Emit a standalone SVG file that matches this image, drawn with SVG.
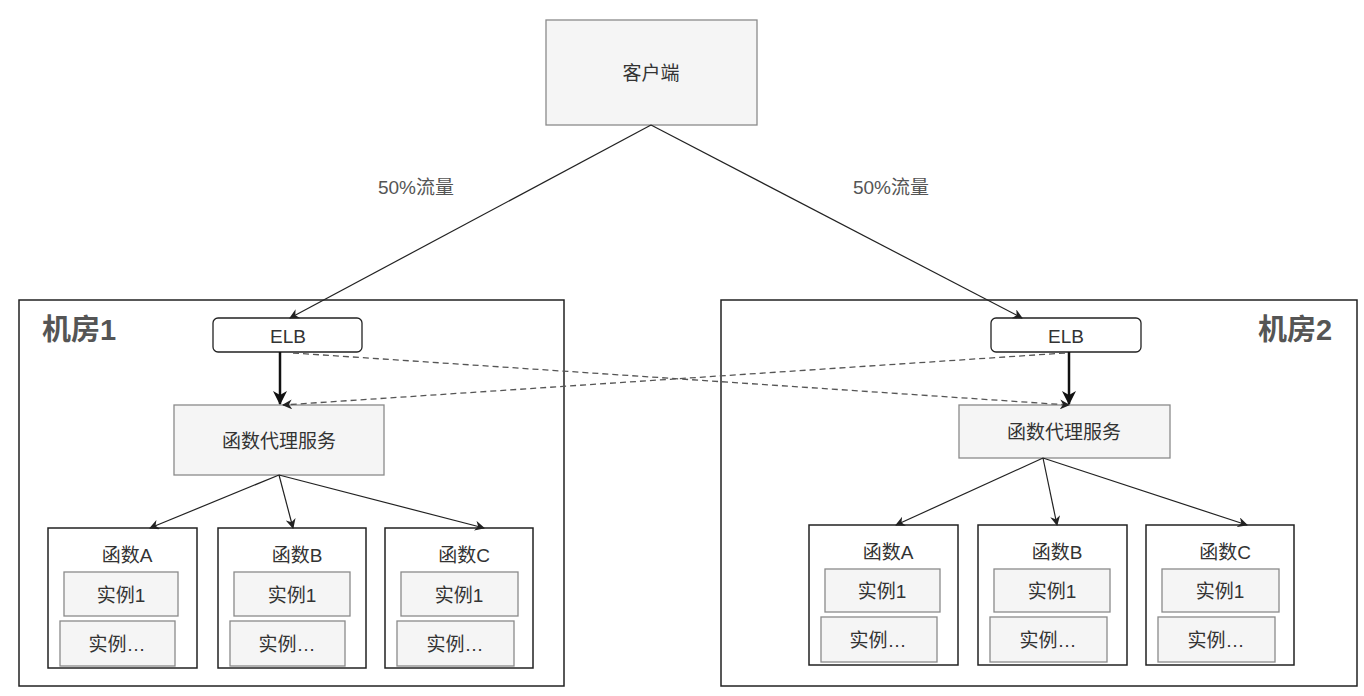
<svg xmlns="http://www.w3.org/2000/svg" width="1364" height="696" viewBox="0 0 1364 696">
<style>
text{font-family:"Liberation Sans","Noto Sans CJK SC",sans-serif;fill:#333;text-anchor:middle;dominant-baseline:central}
.g{fill:#f5f5f5;stroke:#8a8a8a;stroke-width:1.3}
.room{fill:#fff;stroke:#222;stroke-width:1.5}
.fn{fill:#fff;stroke:#222;stroke-width:1.5}
.elb{fill:#fff;stroke:#222;stroke-width:1.3}
.t{font-size:19px}
.lbl{font-size:19px;fill:#555}
.rt{font-size:29px;font-weight:bold;fill:#555}
.ln{stroke:#222;stroke-width:1.2;fill:none}
.thick{stroke:#111;stroke-width:2.5;fill:none}
.dash{stroke:#555;stroke-width:1.3;stroke-dasharray:6 4;fill:none}
</style>
<defs>
<marker id="ah" markerWidth="10" markerHeight="10" refX="9" refY="5" orient="auto" markerUnits="userSpaceOnUse">
<path d="M0,0 L10,5 L0,10 L3,5 Z" fill="#222"/>
</marker>
<marker id="ahb" markerWidth="14" markerHeight="14" refX="13" refY="7" orient="auto" markerUnits="userSpaceOnUse">
<path d="M0,0 L14,7 L0,14 L4,7 Z" fill="#111"/>
</marker>
</defs>

<g id="room1"><rect class="room" x="19" y="300" width="545" height="386"/><text class="rt" x="79" y="330">机房1</text></g>
<g id="room2"><rect class="room" x="721" y="300" width="636" height="386"/><text class="rt" x="1295" y="330">机房2</text></g>

<g id="client"><rect class="g" x="546" y="20" width="211" height="105"/><text class="t" x="651" y="73">客户端</text></g>

<g id="elb1"><rect class="elb" x="213" y="318" width="149" height="34" rx="5"/><text class="t" x="288" y="336">ELB</text></g>
<g id="elb2"><rect class="elb" x="991" y="318" width="150" height="34" rx="5"/><text class="t" x="1066" y="336">ELB</text></g>

<g id="proxy1"><rect class="g" x="174" y="405" width="210" height="70"/><text class="t" x="279" y="441">函数代理服务</text></g>
<g id="proxy2"><rect class="g" x="959" y="405" width="211" height="53"/><text class="t" x="1064" y="432">函数代理服务</text></g>

<g id="r1fa"><rect class="fn" x="48" y="528" width="149" height="140"/><text class="t" x="127" y="555">函数A</text>
<rect class="g" x="64" y="572" width="114" height="44"/><text class="t" x="121" y="595">实例1</text>
<rect class="g" x="60" y="621" width="115" height="45"/><text class="t" x="117" y="644">实例…</text></g>
<g id="r1fb"><rect class="fn" x="218" y="528" width="148" height="140"/><text class="t" x="297" y="555">函数B</text>
<rect class="g" x="234" y="572" width="116" height="44"/><text class="t" x="292" y="595">实例1</text>
<rect class="g" x="230" y="621" width="115" height="45"/><text class="t" x="287" y="644">实例…</text></g>
<g id="r1fc"><rect class="fn" x="385" y="528" width="148" height="140"/><text class="t" x="464" y="555">函数C</text>
<rect class="g" x="401" y="572" width="117" height="44"/><text class="t" x="459" y="595">实例1</text>
<rect class="g" x="397" y="621" width="117" height="45"/><text class="t" x="455" y="644">实例…</text></g>

<g id="r2fa"><rect class="fn" x="809" y="525" width="149" height="140"/><text class="t" x="888" y="552">函数A</text>
<rect class="g" x="825" y="569" width="115" height="43"/><text class="t" x="882" y="591">实例1</text>
<rect class="g" x="821" y="617" width="116" height="45"/><text class="t" x="878" y="640">实例…</text></g>
<g id="r2fb"><rect class="fn" x="978" y="525" width="149" height="140"/><text class="t" x="1057" y="552">函数B</text>
<rect class="g" x="994" y="569" width="116" height="43"/><text class="t" x="1052" y="591">实例1</text>
<rect class="g" x="990" y="617" width="117" height="45"/><text class="t" x="1048" y="640">实例…</text></g>
<g id="r2fc"><rect class="fn" x="1146" y="525" width="148" height="140"/><text class="t" x="1225" y="552">函数C</text>
<rect class="g" x="1162" y="569" width="117" height="43"/><text class="t" x="1220" y="591">实例1</text>
<rect class="g" x="1158" y="617" width="117" height="45"/><text class="t" x="1216" y="640">实例…</text></g>

<g id="connectors">
<line class="ln" x1="651" y1="125" x2="290" y2="318" marker-end="url(#ah)"/>
<line class="ln" x1="651" y1="125" x2="1022" y2="318" marker-end="url(#ah)"/>
<text class="lbl" x="416" y="187">50%流量</text>
<text class="lbl" x="891" y="187">50%流量</text>
<line class="thick" x1="280" y1="352" x2="280" y2="404" marker-end="url(#ahb)"/>
<line class="thick" x1="1069" y1="352" x2="1069" y2="404" marker-end="url(#ahb)"/>
<line class="dash" x1="293" y1="353" x2="1069" y2="405" marker-end="url(#ah)"/>
<line class="dash" x1="1065" y1="353" x2="283" y2="405" marker-end="url(#ah)"/>
<line class="ln" x1="279" y1="475" x2="150" y2="528" marker-end="url(#ah)"/>
<line class="ln" x1="279" y1="475" x2="293" y2="528" marker-end="url(#ah)"/>
<line class="ln" x1="279" y1="475" x2="484" y2="528" marker-end="url(#ah)"/>
<line class="ln" x1="1043" y1="458" x2="896" y2="525" marker-end="url(#ah)"/>
<line class="ln" x1="1043" y1="458" x2="1057" y2="525" marker-end="url(#ah)"/>
<line class="ln" x1="1043" y1="458" x2="1247" y2="525" marker-end="url(#ah)"/>
</g>
</svg>
